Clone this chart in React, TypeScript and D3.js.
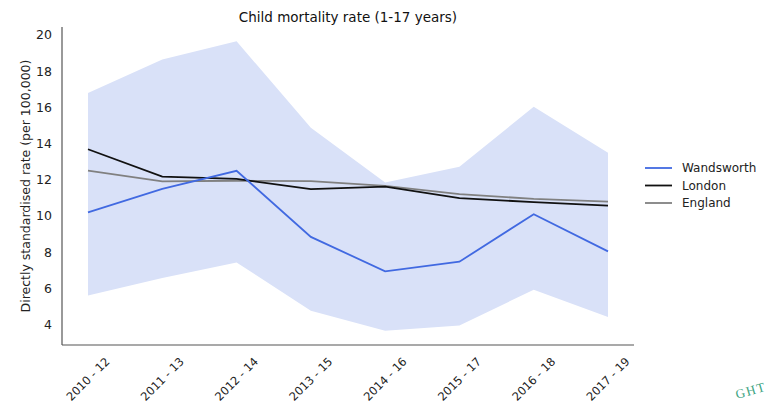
import React from "react";
import * as d3 from "d3";

const categories = ["2010 - 12", "2011 - 13", "2012 - 14", "2013 - 15", "2014 - 16", "2015 - 17", "2016 - 18", "2017 - 19"];
const wandsworth = [10.2, 11.5, 12.5, 8.85, 6.95, 7.48, 10.1, 8.05];
const wandsworthUpper = [16.8, 18.65, 19.65, 14.87, 11.85, 12.72, 16.03, 13.5];
const wandsworthLower = [5.62, 6.58, 7.44, 4.77, 3.67, 3.96, 5.93, 4.42];
const london = [13.69, 12.18, 12.05, 11.49, 11.63, 10.99, 10.77, 10.58];
const england = [12.51, 11.91, 11.95, 11.93, 11.67, 11.21, 10.95, 10.8];
const yTicks = [4, 6, 8, 10, 12, 14, 16, 18, 20];
const seriesNames = ["Wandsworth", "London", "England"];
const seriesColors = ["#4169e1", "#111111", "#808080"];

const W = 777;
const H = 404;
const left = 62, right = 634, top = 27, bottom = 345;
const FONT = "DejaVu Sans, sans-serif";

export default function App() {
  const x = d3.scaleLinear().domain([-0.35, categories.length - 1 + 0.35]).range([left, right]);
  const y = d3.scaleLinear().domain([2.88, 20.44]).range([bottom, top]);
  const line = d3.line<number>().x((_, i) => x(i)).y((d) => y(d));
  const area = d3
    .area<number>()
    .x((_, i) => x(i))
    .y0((_, i) => y(wandsworthLower[i]))
    .y1((d) => y(d));
  const series = [wandsworth, london, england];

  return (
    <svg width={W} height={H} style={{ position: "absolute", left: 0, top: 0, background: "#fff" }} fontFamily={FONT}>
      <rect x={0} y={0} width={W} height={H} fill="#fff" />
      <text x={(left + right) / 2} y={22} textAnchor="middle" fontSize={13.5} fill="#111">
        Child mortality rate (1-17 years)
      </text>
      <path d={area(wandsworthUpper) || ""} fill="#d9e1f8" />
      {[england, london, wandsworth].map((s, k) => {
        const idx = series.indexOf(s);
        return (
          <path key={k} d={line(s) || ""} fill="none" stroke={seriesColors[idx]} strokeWidth={1.8} />
        );
      })}
      <line x1={left} x2={left} y1={top} y2={bottom} stroke="#555" strokeWidth={1.2} />
      <line x1={left} x2={right} y1={bottom} y2={bottom} stroke="#555" strokeWidth={1.2} />
      {yTicks.map((t) => (
        <text key={t} x={52} y={y(t)} dy="0.35em" textAnchor="end" fontSize={12.5} fill="#222">
          {t}
        </text>
      ))}
      {categories.map((c, i) => (
        <text
          key={c}
          transform={`translate(${x(i)},${379}) rotate(-45)`}
          textAnchor="middle"
          dominantBaseline="central"
          fontSize={11.5}
          fill="#222"
        >
          {c}
        </text>
      ))}
      <text
        transform={`translate(25,${(top + bottom) / 2}) rotate(-90)`}
        textAnchor="middle"
        dominantBaseline="central"
        fontSize={12.5}
        fill="#222"
      >
        Directly standardised rate (per 100,000)
      </text>
      {seriesNames.map((n, i) => (
        <g key={n} transform={`translate(645,${168 + i * 17.5})`}>
          <line x1={0} x2={27} y1={0} y2={0} stroke={seriesColors[i]} strokeWidth={1.8} />
          <text x={37} y={0} dy="0.35em" fontSize={12} fill="#222">
            {n}
          </text>
        </g>
      ))}
      <text
        transform="translate(737,399) rotate(-16)"
        fontFamily="Liberation Serif, serif"
        fontSize={13}
        fill="#3aa37f"
        letterSpacing={1.5}
      >
        GHT
      </text>
    </svg>
  );
}
